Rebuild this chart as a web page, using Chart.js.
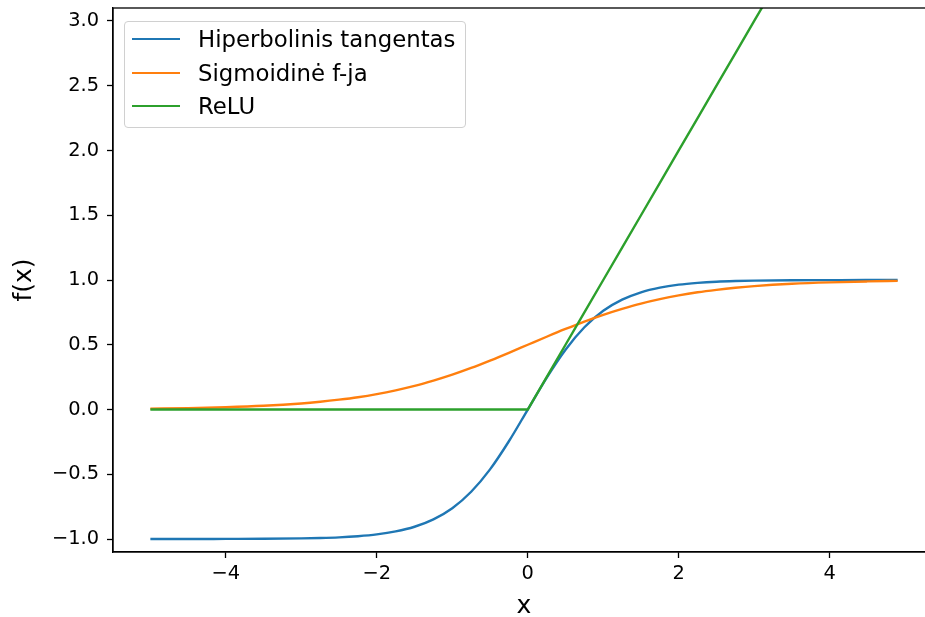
<!DOCTYPE html>
<html>
<head>
<meta charset="utf-8">
<script src="https://cdn.jsdelivr.net/npm/chart.js@4"></script>
<style>
  body { margin: 0; overflow: hidden; background: #fff; }
  #wrap { position: relative; width: 925px; height: 617px; overflow: hidden; }
  #legend {
    position: absolute; left: 124px; top: 21px; width: 340px; height: 105px;
    border: 1px solid #d0d0d0; border-radius: 4px; background: rgba(255,255,255,0.8);
    font-family: "DejaVu Sans"; font-size: 22.8px; color: #000;
  }
  .swatch { position: absolute; left: 7px; width: 48px; height: 2px; }
  .label { position: absolute; left: 73px; white-space: nowrap; line-height: 34px; height: 34px; }
</style>
</head>
<body>
<div id="wrap">
  <canvas id="chart" width="940" height="617"></canvas>
  <div id="legend"></div>
</div>
<script>
// values
const xs = [-5, -4.5, -4, -3.5, -3, -2.75, -2.5, -2.25, -2, -1.75, -1.5, -1.25, -1, -0.75, -0.5, -0.25, 0,
  0.25, 0.5, 0.75, 1, 1.25, 1.5, 1.75, 2, 2.25, 2.5, 2.75, 3, 3.5, 4, 4.5, 4.9];
const tanhVals = [-1.0, -1.0, -0.999, -0.998, -0.995, -0.992, -0.987, -0.978, -0.964, -0.941, -0.905, -0.848, -0.762, -0.635, -0.462, -0.245, 0,
  0.245, 0.462, 0.635, 0.762, 0.848, 0.905, 0.941, 0.964, 0.978, 0.987, 0.992, 0.995, 0.998, 0.999, 1.0, 1.0];
const sigmoidVals = [0.007, 0.011, 0.018, 0.029, 0.047, 0.060, 0.076, 0.095, 0.119, 0.148, 0.182, 0.223, 0.269, 0.321, 0.378, 0.438, 0.5,
  0.562, 0.622, 0.679, 0.731, 0.777, 0.818, 0.852, 0.881, 0.905, 0.924, 0.940, 0.953, 0.971, 0.982, 0.989, 0.993];
const reluVals = [0, 0, 0, 0, 0, 0, 0, 0, 0, 0, 0, 0, 0, 0, 0, 0, 0,
  0.25, 0.5, 0.75, 1, 1.25, 1.5, 1.75, 2, 2.25, 2.5, 2.75, 3, 3.5, 4, 4.5, 4.9];

const seriesNames = ['Hiperbolinis tangentas', 'Sigmoidinė f-ja', 'ReLU'];
const seriesColors = ['#1f77b4', '#ff7f0e', '#2ca02c'];
const xTicks = [-4, -2, 0, 2, 4];
const yTicks = [-1.0, -0.5, 0.0, 0.5, 1.0, 1.5, 2.0, 2.5, 3.0];

function pts(ys) {
  return xs.map((x, i) => ({ x: x, y: ys[i] }));
}

function minus(s) {
  return String(s).replace('-', '\u2212');
}

// full box around the plot, like matplotlib spines
const frame = {
  id: 'frame',
  afterDraw(chart) {
    const { ctx, chartArea: a } = chart;
    ctx.save();
    ctx.strokeStyle = '#000';
    ctx.lineWidth = 1.3;
    ctx.strokeRect(a.left, a.top, a.right - a.left, a.bottom - a.top);
    ctx.restore();
  }
};

const tickFont = { family: 'DejaVu Sans', size: 19.4 };
const titleFont = { family: 'DejaVu Sans', size: 25, lineHeight: 1.2 };

new Chart(document.getElementById('chart'), {
  type: 'line',
  data: {
    datasets: [
      { label: seriesNames[0], data: pts(tanhVals), borderColor: seriesColors[0], cubicInterpolationMode: 'monotone', order: 2 },
      { label: seriesNames[1], data: pts(sigmoidVals), borderColor: seriesColors[1], cubicInterpolationMode: 'monotone', order: 1 },
      { label: seriesNames[2], data: pts(reluVals), borderColor: seriesColors[2], tension: 0, order: 0 }
    ]
  },
  options: {
    responsive: false,
    animation: false,
    devicePixelRatio: 1,
    elements: { point: { radius: 0 }, line: { borderWidth: 2.4, fill: false } },
    layout: { padding: { top: 8, right: 5, left: 0, bottom: 0 } },
    plugins: { legend: { display: false }, tooltip: { enabled: false } },
    scales: {
      x: {
        type: 'linear', min: -5.495, max: 5.395,
        afterFit: s => { s.height = 65; s.paddingLeft = 0; s.paddingRight = 0; },
        afterBuildTicks: s => { s.ticks = xTicks.map(v => ({ value: v })); },
        grid: { drawOnChartArea: false, tickLength: 6, tickColor: '#000', tickWidth: 1.3 },
        border: { color: '#000', width: 1.3 },
        ticks: { font: tickFont, color: '#000', padding: 4, maxRotation: 0, callback: v => minus(v) },
        title: { display: true, text: 'x', font: titleFont, color: '#000', padding: { bottom: -4 } }
      },
      y: {
        type: 'linear', min: -1.1, max: 3.1,
        afterFit: s => { s.width = 113; s.paddingTop = 0; s.paddingBottom = 0; },
        afterBuildTicks: s => { s.ticks = yTicks.map(v => ({ value: v })); },
        grid: { drawOnChartArea: false, tickLength: 6, tickColor: '#000', tickWidth: 1.3 },
        border: { color: '#000', width: 1.3 },
        ticks: { font: tickFont, color: '#000', padding: 8, callback: v => minus(v.toFixed(1)) },
        title: { display: true, text: 'f(x)', font: titleFont, color: '#000', padding: { top: 9 } }
      }
    }
  },
  plugins: [frame]
});

// legend drawn as html text inside the plot
const legend = document.getElementById('legend');
seriesNames.forEach((name, i) => {
  const top = Math.round(i * 33.7);
  legend.innerHTML += '<div class="swatch" style="background:' + seriesColors[i] + ';top:' + (top + 16) + 'px"></div>' +
    '<div class="label" style="top:' + top + 'px">' + name + '</div>';
});
</script>
</body>
</html>
